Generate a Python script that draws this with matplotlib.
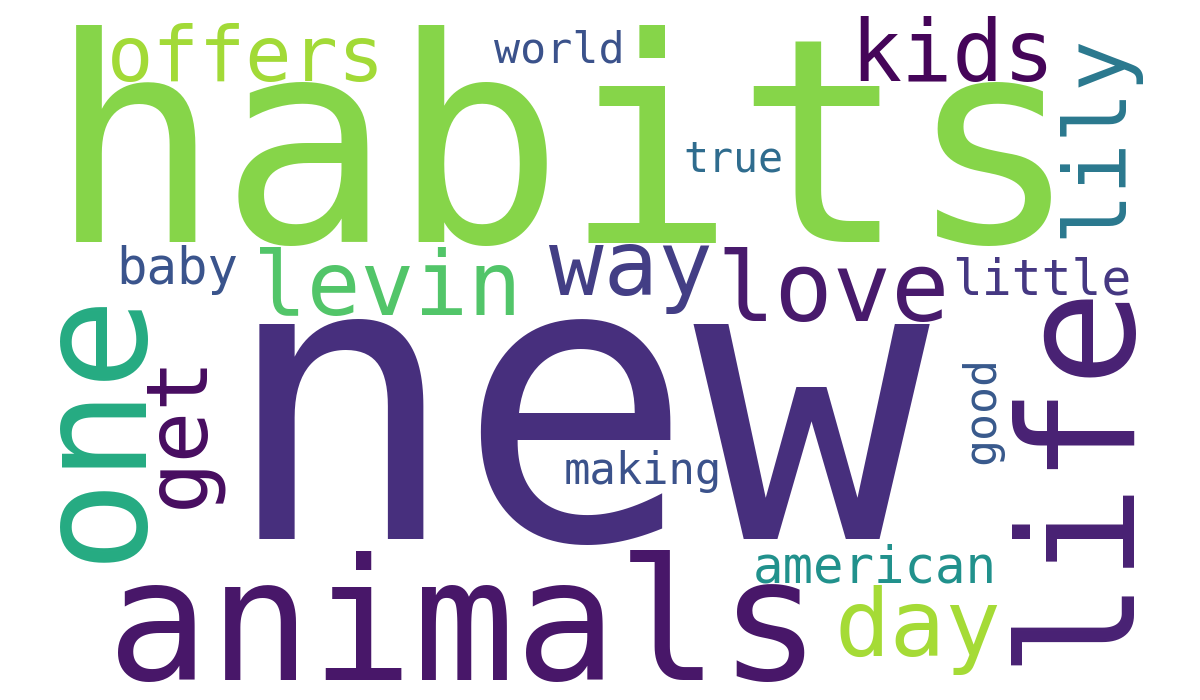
"""
Облако слов: habits / new / animals ...
Каждое слово ставим как обычный текст, размер подбираем по рамке:
слово рисуется на черновом холсте, меряем реальные пиксели чернил.
"""

import numpy as np
import matplotlib

matplotlib.use("Agg")
import matplotlib.pyplot as plt

# ─── данные ───
words = [
    "habits", "new", "animals", "life", "one", "offers", "kids", "world",
    "lily", "true", "levin", "way", "love", "baby", "little", "get",
    "good", "making", "american", "day",
]

colors = [
    "#86d549", "#472f7d", "#481769", "#482173", "#25ab82", "#a2da37",
    "#450559", "#3b528b", "#2a788e", "#2f6c8e", "#52c569", "#433e85",
    "#481a6c", "#3a548c", "#453882", "#470d60", "#38598c", "#3b528b",
    "#21918c", "#a5db36",
]

# ─── раскладка (рамка чернил в пикселях: x0, y0, x1, y1) и поворот ───
boxes = [
    (67, 24, 1059, 246), (241, 319, 947, 545), (111, 549, 812, 682),
    (1009, 300, 1138, 665), (60, 305, 148, 565), (108, 22, 381, 82),
    (857, 16, 1050, 82), (492, 29, 624, 63), (1059, 43, 1145, 238),
    (682, 142, 786, 172), (257, 246, 517, 316), (549, 243, 709, 315),
    (724, 246, 946, 322), (122, 245, 237, 295), (956, 256, 1130, 295),
    (147, 368, 226, 510), (962, 363, 1006, 465), (562, 450, 721, 493),
    (755, 543, 992, 583), (841, 585, 998, 675),
]
rotations = [0, 0, 0, 90, 90, 0, 0, 0, 90, 0, 0, 0, 0, 0, 0, 90, 90, 0, 0, 0]

W, H, DPI = 1200, 700, 100
FONT = "DejaVu Sans Mono"
TMP_W, TMP_H, AX0, AY0 = 2000, 1200, 600, 700


def ink_box(word, size_pt, rot):
    """Рамка чернил слова (в пикселях) относительно точки привязки."""
    f = plt.figure(figsize=(TMP_W / DPI, TMP_H / DPI), dpi=DPI, facecolor="white")
    a = f.add_axes([0, 0, 1, 1])
    a.set_xlim(0, TMP_W)
    a.set_ylim(TMP_H, 0)
    a.axis("off")
    a.text(AX0, AY0, word, fontsize=size_pt, family=FONT, color="black",
           rotation=rot, rotation_mode="anchor", ha="left", va="baseline")
    f.canvas.draw()
    img = np.asarray(f.canvas.buffer_rgba())[:, :, 0]
    plt.close(f)
    ys, xs = np.where(img < 128)
    return xs.min() - AX0, ys.min() - AY0, xs.max() + 1 - AX0, ys.max() + 1 - AY0


fig = plt.figure(figsize=(W / DPI, H / DPI), dpi=DPI, facecolor="white")
ax = fig.add_axes([0, 0, 1, 1])
ax.set_xlim(0, W)
ax.set_ylim(H, 0)
ax.axis("off")

for word, col, (x0, y0, x1, y1), rot in zip(words, colors, boxes, rotations):
    # первый замер при 100 pt → масштаб
    bx0, by0, bx1, by1 = ink_box(word, 100, rot)
    k = min((x1 - x0) / (bx1 - bx0), (y1 - y0) / (by1 - by0))
    size = 100 * k
    # второй замер уже в нужном кегле → сдвиг
    bx0, by0, bx1, by1 = ink_box(word, size, rot)
    px = (x0 + x1) / 2 - (bx0 + bx1) / 2
    py = (y0 + y1) / 2 - (by0 + by1) / 2
    ax.text(px, py, word, fontsize=size, family=FONT, color=col,
            rotation=rot, rotation_mode="anchor", ha="left", va="baseline")

fig.savefig("out.png", dpi=DPI, facecolor="white")
